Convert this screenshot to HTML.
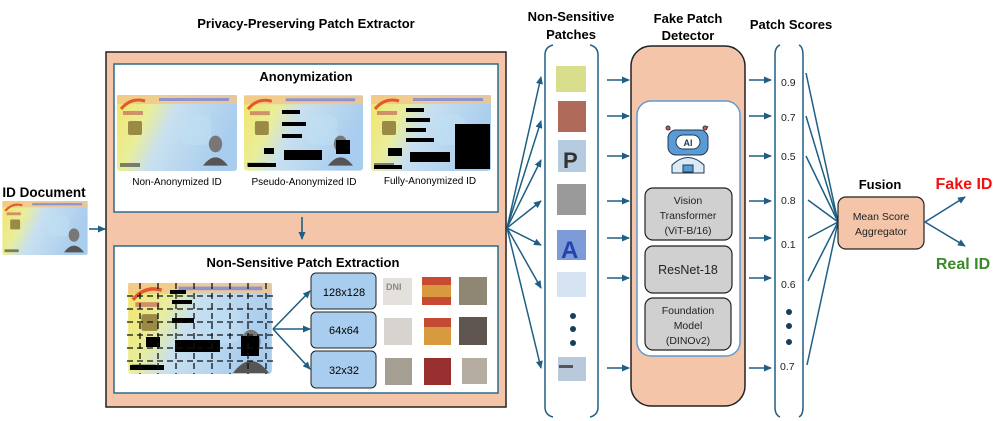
<!DOCTYPE html>
<html><head><meta charset="utf-8"><style>
html,body{margin:0;padding:0;background:#fff}
svg{display:block}
text{font-family:"Liberation Sans",sans-serif}
.b{font-weight:bold}
</style></head><body>
<svg width="997" height="421" viewBox="0 0 997 421" xmlns="http://www.w3.org/2000/svg">
<defs>
<linearGradient id="cg" x1="0" y1="0" x2="1" y2="0.3">
<stop offset="0" stop-color="#f3e46a"/><stop offset="0.3" stop-color="#e9ee9a"/><stop offset="0.5" stop-color="#c8e0f0"/><stop offset="1" stop-color="#a9cdee"/></linearGradient>
<marker id="ah" markerWidth="8" markerHeight="8" refX="7" refY="4" orient="auto" markerUnits="userSpaceOnUse"><path d="M0,0.5 L8,4 L0,7.5 z" fill="#1f5f85"/></marker>
<symbol id="card" viewBox="0 0 120 76">
<rect width="120" height="76" rx="3" fill="url(#cg)"/>
<rect x="0" y="0" width="120" height="9" fill="#f2c48b" opacity="0.8"/>
<rect x="42" y="3" width="70" height="3" fill="#6a7be0" opacity="0.7"/>
<path d="M4,14 q10,-12 24,-8" stroke="#e25a2a" stroke-width="3" fill="none"/>
<rect x="6" y="16" width="20" height="4" fill="#b55" opacity="0.6"/>
<rect x="11" y="26" width="14" height="14" rx="2" fill="#9a8a45"/>
<rect x="64" y="20" width="30" height="30" rx="8" fill="#bfe0f3" opacity="0.6"/>
<rect x="3" y="68" width="20" height="4" fill="#333" opacity="0.6"/>
</symbol>
<symbol id="face" viewBox="0 0 30 40"><ellipse cx="15" cy="14" rx="8" ry="10" fill="#777"/><path d="M0,40 Q15,20 30,40z" fill="#555"/></symbol>
</defs>

<!-- titles -->
<text x="306" y="28" font-size="13" class="b" text-anchor="middle">Privacy-Preserving Patch Extractor</text>
<text x="571" y="21" font-size="13" class="b" text-anchor="middle">Non-Sensitive</text>
<text x="571" y="39" font-size="13" class="b" text-anchor="middle">Patches</text>
<text x="688" y="23" font-size="13" class="b" text-anchor="middle">Fake Patch</text>
<text x="688" y="40" font-size="13" class="b" text-anchor="middle">Detector</text>
<text x="791" y="29" font-size="13" class="b" text-anchor="middle">Patch Scores</text>

<!-- ID document -->
<text x="44" y="197" font-size="13.5" class="b" text-anchor="middle">ID Document</text>
<use href="#card" x="2" y="201" width="86" height="54"/>
<use href="#face" x="64" y="225" width="20" height="28"/>
<line x1="89" y1="229" x2="105" y2="229" stroke="#1f5f85" stroke-width="1.6" marker-end="url(#ah)"/>

<!-- main box -->
<rect x="106" y="52" width="400" height="355" fill="#f5c5aa" stroke="#222" stroke-width="1.5"/>
<rect x="114" y="64" width="384" height="148" fill="#fff" stroke="#2a6c8c" stroke-width="1.5"/>
<text x="306" y="81" font-size="13" class="b" text-anchor="middle">Anonymization</text>
<use href="#card" x="117" y="95" width="120" height="76"/>
<use href="#face" x="203" y="130" width="25" height="38"/>
<text x="177" y="185" font-size="10" text-anchor="middle">Non-Anonymized ID</text>
<use href="#card" x="244" y="95" width="119" height="76"/>
<use href="#face" x="328" y="130" width="25" height="38"/>
<rect x="282" y="110" width="18" height="4"/><rect x="282" y="122" width="24" height="4"/><rect x="282" y="134" width="20" height="4"/><rect x="264" y="148" width="10" height="6"/><rect x="284" y="150" width="38" height="10"/><rect x="336" y="140" width="14" height="14"/><rect x="248" y="163" width="28" height="4"/>
<text x="304" y="185" font-size="10" text-anchor="middle">Pseudo-Anonymized ID</text>
<use href="#card" x="371" y="95" width="120" height="76"/>
<rect x="455" y="124" width="35" height="45"/>
<rect x="406" y="108" width="18" height="4"/><rect x="406" y="118" width="24" height="4"/><rect x="406" y="128" width="20" height="4"/><rect x="406" y="138" width="28" height="4"/><rect x="388" y="148" width="14" height="8"/><rect x="410" y="152" width="40" height="10"/><rect x="374" y="165" width="28" height="4"/>
<text x="430" y="184" font-size="10" text-anchor="middle">Fully-Anonymized ID</text>

<line x1="302" y1="217" x2="302" y2="239" stroke="#1f5f85" stroke-width="1.6" marker-end="url(#ah)"/>

<rect x="114" y="246" width="384" height="147" fill="#fff" stroke="#2a6c8c" stroke-width="1.5"/>
<text x="303" y="267" font-size="13" class="b" text-anchor="middle">Non-Sensitive Patch Extraction</text>
<use href="#card" x="127" y="283" width="146" height="91"/>
<use href="#face" x="232" y="325" width="38" height="48"/>
<rect x="241" y="336" width="18" height="20"/><rect x="172" y="318" width="22" height="5"/><rect x="170" y="290" width="16" height="4"/><rect x="172" y="300" width="20" height="4"/><rect x="175" y="340" width="45" height="12"/><rect x="146" y="337" width="14" height="10"/><rect x="130" y="365" width="34" height="5"/>
<g stroke="#111" stroke-width="1.3" stroke-dasharray="6,4" fill="none">
<path d="M127,296H273M127,309H273M127,322H273M127,335H273M127,348H273M127,361H273"/>
<path d="M140,283V374M158,283V374M176,283V374M194,283V374M212,283V374M230,283V374M248,283V374M266,283V374"/>
</g>
<g stroke="#1f5f85" stroke-width="1.6" marker-end="url(#ah)">
<line x1="273" y1="329" x2="310" y2="291"/><line x1="273" y1="329" x2="310" y2="329"/><line x1="273" y1="329" x2="310" y2="369"/>
</g>
<g fill="#a9cdee" stroke="#222" stroke-width="1">
<rect x="311" y="273" width="65" height="36" rx="5"/><rect x="311" y="312" width="65" height="36" rx="5"/><rect x="311" y="351" width="65" height="37" rx="5"/>
</g>
<text x="344" y="296" font-size="11" text-anchor="middle">128x128</text>
<text x="344" y="334" font-size="11" text-anchor="middle">64x64</text>
<text x="344" y="374" font-size="11" text-anchor="middle">32x32</text>
<rect x="383" y="278" width="29" height="27" fill="#e4e1dc"/><text x="386" y="290" font-size="9" class="b" fill="#888">DNI</text>
<rect x="422" y="277" width="29" height="28" fill="#c84a33"/><rect x="422" y="285" width="29" height="12" fill="#d99a3e"/>
<rect x="459" y="277" width="28" height="28" fill="#8f8673"/>
<rect x="384" y="318" width="28" height="27" fill="#d7d4cf"/>
<rect x="424" y="318" width="27" height="27" fill="#c44a34"/><rect x="424" y="327" width="27" height="18" fill="#d89a3e"/>
<rect x="459" y="317" width="28" height="28" fill="#5f5550"/>
<rect x="385" y="358" width="27" height="27" fill="#a59e92"/>
<rect x="424" y="358" width="27" height="27" fill="#962f2e"/>
<rect x="462" y="358" width="25" height="26" fill="#b5ada2"/>

<!-- fan to patches -->
<g stroke="#1f5f85" stroke-width="1.5" marker-end="url(#ah)">
<line x1="507" y1="228" x2="541" y2="77"/><line x1="507" y1="228" x2="541" y2="121"/><line x1="507" y1="228" x2="541" y2="160"/><line x1="507" y1="228" x2="541" y2="201"/><line x1="507" y1="228" x2="541" y2="245"/><line x1="507" y1="228" x2="541" y2="288"/><line x1="507" y1="228" x2="541" y2="368"/>
</g>
<!-- patches bracket -->
<path d="M553,45 Q545,47 545,55 V407 Q545,415 553,417" stroke="#1f5f85" stroke-width="1.5" fill="none"/>
<path d="M590,45 Q598,47 598,55 V407 Q598,415 590,417" stroke="#1f5f85" stroke-width="1.5" fill="none"/>
<rect x="556" y="66" width="30" height="26" fill="#d9de8c"/>
<rect x="558" y="101" width="28" height="31" fill="#b06a5a"/>
<rect x="558" y="140" width="28" height="32" fill="#b4cbe0"/><text x="563" y="168" font-size="22" class="b" fill="#333">P</text>
<rect x="557" y="184" width="29" height="31" fill="#9a9a9a"/>
<rect x="557" y="230" width="29" height="30" fill="#7d9bd6"/><text x="561" y="258" font-size="24" class="b" fill="#2344b0">A</text>
<rect x="557" y="272" width="29" height="25" fill="#d5e3f3"/>
<circle cx="573" cy="316" r="3" fill="#173e5a"/><circle cx="573" cy="329" r="3" fill="#173e5a"/><circle cx="573" cy="343" r="3" fill="#173e5a"/>
<rect x="558" y="357" width="28" height="24" fill="#b9c9dc"/><rect x="559" y="365" width="14" height="3" fill="#555"/>

<g stroke="#1f5f85" stroke-width="1.6" marker-end="url(#ah)">
<line x1="607" y1="80" x2="629" y2="80"/><line x1="607" y1="116" x2="629" y2="116"/><line x1="607" y1="156" x2="629" y2="156"/><line x1="607" y1="201" x2="629" y2="201"/><line x1="607" y1="238" x2="629" y2="238"/><line x1="607" y1="278" x2="629" y2="278"/><line x1="607" y1="368" x2="629" y2="368"/>
<line x1="749" y1="80" x2="771" y2="80"/><line x1="749" y1="116" x2="771" y2="116"/><line x1="749" y1="156" x2="771" y2="156"/><line x1="749" y1="201" x2="771" y2="201"/><line x1="749" y1="238" x2="771" y2="238"/><line x1="749" y1="278" x2="771" y2="278"/><line x1="749" y1="368" x2="771" y2="368"/>
</g>

<!-- detector -->
<rect x="631" y="46" width="114" height="360" rx="20" fill="#f5c5aa" stroke="#222" stroke-width="1.5"/>
<rect x="637" y="101" width="103" height="255" rx="14" fill="#fff" stroke="#5b9bd5" stroke-width="1.5"/>
<!-- robot -->
<g stroke="#1f3a55" stroke-width="1">
<rect x="668" y="130" width="40" height="25" rx="8" fill="#5b9bd5"/>
<rect x="676" y="135" width="24" height="14" rx="7" fill="#fff"/>
<line x1="670" y1="130" x2="668" y2="126"/><line x1="706" y1="130" x2="708" y2="126"/>
<circle cx="668" cy="128" r="2" fill="#e05555"/><circle cx="705" cy="128" r="2" fill="#e05555"/>
<path d="M672,173 V165 Q688,150 704,165 V173 Z" fill="#dce9f7"/>
<rect x="683" y="165" width="10" height="7" fill="#5b9bd5"/>
</g>
<text x="688" y="146" font-size="9" class="b" text-anchor="middle" fill="#1f3a55">AI</text>
<g fill="#d0d0d0" stroke="#222" stroke-width="1.2">
<rect x="645" y="188" width="87" height="52" rx="8"/><rect x="645" y="246" width="87" height="47" rx="8"/><rect x="645" y="298" width="86" height="52" rx="8"/>
</g>
<g font-size="10.5" text-anchor="middle" fill="#222">
<text x="688" y="204">Vision</text><text x="688" y="219">Transformer</text><text x="688" y="234">(ViT-B/16)</text>
<text x="688" y="274" font-size="12.5">ResNet-18</text>
<text x="688" y="314">Foundation</text><text x="688" y="329">Model</text><text x="688" y="344">(DINOv2)</text>
</g>

<!-- scores -->
<path d="M780,45 Q775,47 775,55 V407 Q775,415 780,417" stroke="#1f5f85" stroke-width="1.5" fill="none"/>
<path d="M799,45 Q803,47 803,55 V407 Q803,415 799,417" stroke="#1f5f85" stroke-width="1.5" fill="none"/>
<g font-size="10.5" fill="#222">
<text x="781" y="86">0.9</text><text x="781" y="121">0.7</text><text x="781" y="160">0.5</text><text x="781" y="204">0.8</text><text x="781" y="248">0.1</text><text x="781" y="288">0.6</text><text x="780" y="370">0.7</text>
</g>
<circle cx="789" cy="312" r="3" fill="#173e5a"/><circle cx="789" cy="326" r="3" fill="#173e5a"/><circle cx="789" cy="342" r="3" fill="#173e5a"/>
<g stroke="#1f5f85" stroke-width="1.5">
<line x1="806" y1="73" x2="838" y2="222"/><line x1="806" y1="116" x2="838" y2="222"/><line x1="806" y1="156" x2="838" y2="222"/><line x1="808" y1="200" x2="838" y2="222"/><line x1="808" y1="238" x2="838" y2="222"/><line x1="808" y1="281" x2="838" y2="222"/><line x1="807" y1="365" x2="838" y2="222"/>
</g>
<text x="880" y="189" font-size="13" class="b" text-anchor="middle">Fusion</text>
<rect x="838" y="197" width="86" height="52" rx="8" fill="#f5c5aa" stroke="#222" stroke-width="1.2"/>
<text x="881" y="220" font-size="10.5" text-anchor="middle" fill="#222">Mean Score</text>
<text x="881" y="235" font-size="10.5" text-anchor="middle" fill="#222">Aggregator</text>
<g stroke="#1f5f85" stroke-width="1.6" marker-end="url(#ah)">
<line x1="925" y1="222" x2="965" y2="197"/><line x1="925" y1="222" x2="965" y2="246"/>
</g>
<text x="964" y="189" font-size="16" class="b" text-anchor="middle" fill="#f01010">Fake ID</text>
<text x="963" y="269" font-size="16" class="b" text-anchor="middle" fill="#3a8a2a">Real ID</text>
</svg>
</body></html>
